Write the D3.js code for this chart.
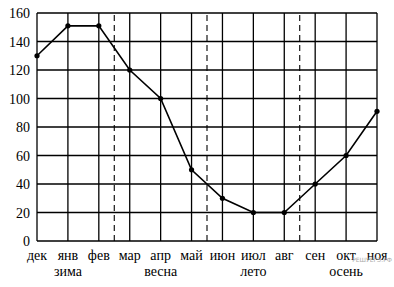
<!DOCTYPE html>
<html>
<head>
<meta charset="utf-8">
<script src="https://cdn.jsdelivr.net/npm/d3@7"></script>
<style>
body { margin: 0; background: #fff; }
svg { display: block; }
text { font-family: "Liberation Serif", "Times New Roman", serif; fill: #000; }
</style>
</head>
<body>
<svg id="chart" width="394" height="287"></svg>
<script>
var months = ['дек', 'янв', 'фев', 'мар', 'апр', 'май', 'июн', 'июл', 'авг', 'сен', 'окт', 'ноя'];
var values = [130, 151, 151, 120, 100, 50, 30, 20, 20, 40, 60, 91];
var seasons = ['зима', 'весна', 'лето', 'осень'];
var seasonCenters = [1, 4, 7, 10];
var seasonBreaks = [2.5, 5.5, 8.5];
var yTicks = [0, 20, 40, 60, 80, 100, 120, 140, 160];

var svg = d3.select('#chart');

var x = d3.scaleLinear().domain([0, 11]).range([37, 377]);
var y = d3.scaleLinear().domain([0, 160]).range([241, 13]);

//grid - horizontal
svg.selectAll('.hgrid').data(yTicks).enter().append('line')
	.attr('x1', x(0)).attr('x2', x(11))
	.attr('y1', function(d) { return y(d); })
	.attr('y2', function(d) { return y(d); })
	.attr('stroke', '#000').attr('stroke-width', 1.3);

//grid - vertical
svg.selectAll('.vgrid').data(months).enter().append('line')
	.attr('x1', function(d, i) { return x(i); })
	.attr('x2', function(d, i) { return x(i); })
	.attr('y1', y(0)).attr('y2', y(160))
	.attr('stroke', '#000').attr('stroke-width', 1.3);

//season dividers
svg.selectAll('.sep').data(seasonBreaks).enter().append('line')
	.attr('x1', function(d) { return x(d); })
	.attr('x2', function(d) { return x(d); })
	.attr('y1', y(0)).attr('y2', y(160))
	.attr('stroke', '#000').attr('stroke-width', 1.1)
	.attr('stroke-dasharray', '6,4');

//y labels
svg.selectAll('.ylab').data(yTicks).enter().append('text')
	.attr('x', 30)
	.attr('y', function(d) { return y(d) + 5; })
	.attr('text-anchor', 'end')
	.style('font-size', '14px')
	.text(function(d) { return d; });

//month labels
svg.selectAll('.mlab').data(months).enter().append('text')
	.attr('x', function(d, i) { return x(i); })
	.attr('y', 260)
	.attr('text-anchor', 'middle')
	.style('font-size', '14px')
	.text(function(d) { return d; });

//season labels
svg.selectAll('.slab').data(seasons).enter().append('text')
	.attr('x', function(d, i) { return x(seasonCenters[i]); })
	.attr('y', 276)
	.attr('text-anchor', 'middle')
	.style('font-size', '14px')
	.text(function(d) { return d; });

//line
var line = d3.line()
	.x(function(d, i) { return x(i); })
	.y(function(d) { return y(d); });

svg.append('path')
	.datum(values)
	.attr('d', line)
	.attr('fill', 'none')
	.attr('stroke', '#000')
	.attr('stroke-width', 1.6);

svg.selectAll('.pt').data(values).enter().append('circle')
	.attr('cx', function(d, i) { return x(i); })
	.attr('cy', function(d) { return y(d); })
	.attr('r', 2.6)
	.attr('fill', '#000');

//watermark
svg.append('text')
	.attr('x', 392).attr('y', 262)
	.attr('text-anchor', 'end')
	.style('font-family', 'DejaVu Sans, sans-serif')
	.style('font-size', '6px')
	.style('fill', '#aaa')
	.text('РЕШУЕГЭ.РФ');
</script>
</body>
</html>
